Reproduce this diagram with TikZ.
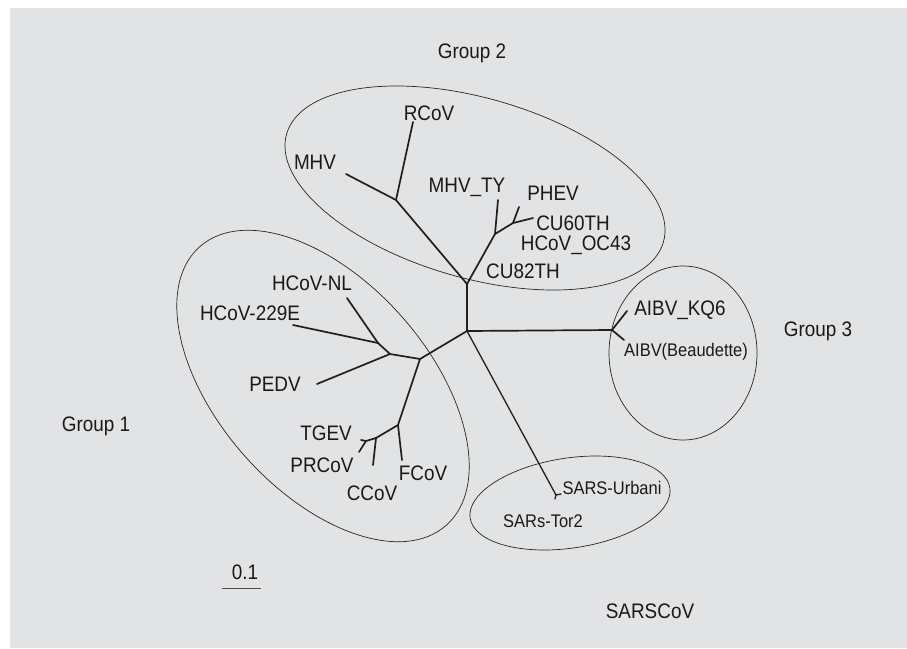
\documentclass[tikz,border=0pt]{standalone}
\usepackage{fontspec}
\setmainfont[FakeStretch=0.9]{Liberation Sans}
\definecolor{bgray}{RGB}{226,227,229}
\begin{document}
\begin{tikzpicture}[x=1pt,y=-1pt,
  br/.style={line width=1.7pt,line cap=round,line join=round,draw=black!88},
  thinbr/.style={line width=1.3pt,line cap=round,line join=round,draw=black!88},
  ell/.style={line width=0.7pt,draw=black!85},
  tlab/.style={font=\fontsize{21}{21}\selectfont,inner sep=0pt,text=black!90},
  slab/.style={font=\fontsize{18.3}{18.3}\selectfont,inner sep=0pt,text=black!90}]
\useasboundingbox (0,0) rectangle (907,648);
\fill[white] (0,0) rectangle (907,648);
\fill[bgray] (10,8) rectangle (907,648);

% group ellipses
\draw[ell,rotate around={-16:(475,188)}] (475,188) ellipse [x radius=196pt, y radius=90pt];
\draw[ell,rotate around={-48.5:(323,386)}] (323,386) ellipse [x radius=186pt, y radius=105pt];
\draw[ell] (683,353) ellipse [x radius=74pt, y radius=87pt];
\draw[ell,rotate around={8.6:(570,503)}] (570,503) ellipse [x radius=101pt, y radius=45pt];

% tree coordinates
\coordinate (R1) at (467,331);
\coordinate (R2) at (467,284);
\coordinate (G2a) at (396,200);
\coordinate (MHVe) at (346,174);
\coordinate (RCoVe) at (413,122);
\coordinate (J) at (495,234);
\coordinate (MHVTYe) at (498,200);
\coordinate (J2) at (513,223);
\coordinate (PHEVe) at (519,207);
\coordinate (CU60e) at (533,218);
\coordinate (G1a) at (420,359);
\coordinate (G1b) at (390,354);
\coordinate (G1c) at (378,343);
\coordinate (NLe) at (347,298);
\coordinate (E229e) at (293,325);
\coordinate (PEDVe) at (317,384);
\coordinate (G1d) at (398,425);
\coordinate (FCoVe) at (402,460);
\coordinate (G1e) at (376,438);
\coordinate (CCoVe) at (373,465);
\coordinate (G1f) at (366,441);
\coordinate (TGEVe) at (361,440);
\coordinate (PRCoVe) at (359,452);
\coordinate (G3a) at (612,330);
\coordinate (KQ6e) at (627,311);
\coordinate (Beaue) at (624,340);
\coordinate (SARSj) at (556,495);
\coordinate (Urbe) at (561,494);
\coordinate (Tor2e) at (555,499);

% branches
\draw[br] (R1) -- (R2);
\draw[br] (R2) -- (G2a) -- (MHVe);
\draw[br] (G2a) -- (RCoVe);
\draw[br] (R2) -- (J) -- (MHVTYe);
\draw[br] (J) -- (J2) -- (CU60e);
\draw[br] (J2) -- (PHEVe);
\draw[br] (R1) -- (G1a) -- (G1b) -- (G1c) -- (NLe);
\draw[br] (G1c) -- (E229e);
\draw[br] (G1b) -- (PEDVe);
\draw[br] (G1a) -- (G1d) -- (FCoVe);
\draw[br] (G1d) -- (G1e) -- (CCoVe);
\draw[br] (G1e) -- (G1f) -- (TGEVe);
\draw[br] (G1f) -- (PRCoVe);
\draw[br] (R1) -- (G3a) -- (KQ6e);
\draw[br] (G3a) -- (Beaue);
\draw[thinbr] (R1) -- (SARSj) -- (Urbe);
\draw[thinbr] (SARSj) -- (Tor2e);

% leaf labels
\node[tlab] (lRCoV) at (429,113) {RCoV};
\node[tlab] (lMHV) at (315,162) {MHV};
\node[tlab] (lMHVTY) at (467,187) {MHV\_TY};
\node[tlab] (lPHEV) at (553,193) {PHEV};
\node[tlab] (lCU60) at (573,223) {CU60TH};
\node[tlab] (lOC43) at (576,245) {HCoV\_OC43};
\node[tlab] (lCU82) at (523,271) {CU82TH};
\node[tlab] (lNL) at (312,283) {HCoV-NL};
\node[tlab] (l229E) at (250,313) {HCoV-229E};
\node[tlab] (lPEDV) at (275,384) {PEDV};
\node[tlab] (lTGEV) at (326,433) {TGEV};
\node[tlab] (lPRCoV) at (322,465) {PRCoV};
\node[tlab] (lFCoV) at (423,473) {FCoV};
\node[tlab] (lCCoV) at (372,493) {CCoV};
\node[tlab] (lKQ6) at (680,310) {AIBV\_KQ6};
\node[slab] (lBeau) at (686,352) {AIBV(Beaudette)};
\node[slab] (lUrb) at (612,488) {SARS-Urbani};
\node[slab] (lTor2) at (543,521) {SARs-Tor2};

% group labels
\node[tlab] (g2) at (472,53) {Group 2};
\node[tlab] (g1) at (96,426) {Group 1};
\node[tlab] (g3) at (818,331) {Group 3};
\node[tlab] (gs) at (650,611) {SARSCoV};

% scale bar
\coordinate (sb1) at (222,588);
\coordinate (sb2) at (261,588);
\draw[line width=0.9pt,draw=black!70] (sb1) -- (sb2);
\node[tlab] (sbl) at (245,572) {0.1};
\end{tikzpicture}
\end{document}
